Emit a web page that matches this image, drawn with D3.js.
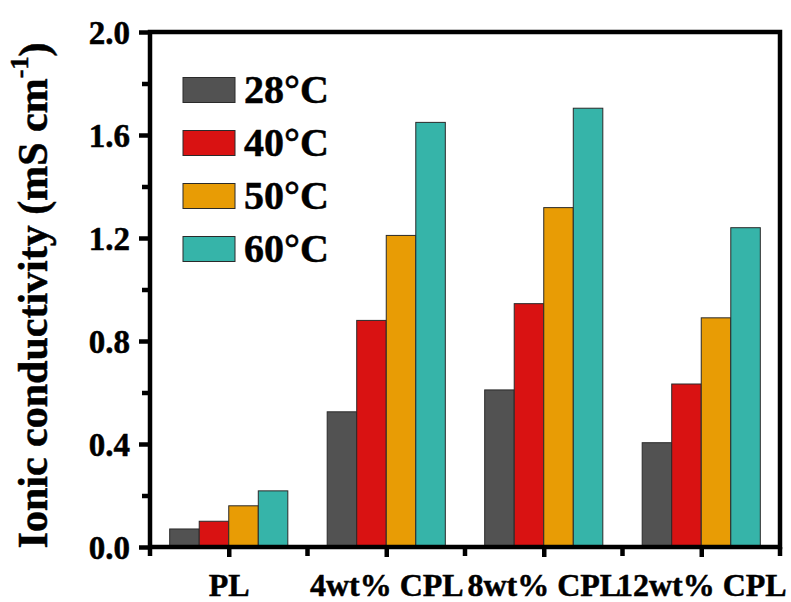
<!DOCTYPE html>
<html>
<head>
<meta charset="utf-8">
<script src="https://cdn.jsdelivr.net/npm/d3@7"></script>
<style>
  html, body { margin: 0; padding: 0; background: #fff; }
  svg { display: block; }
  text { font-family: "Liberation Serif", "Times New Roman", serif; font-weight: bold; fill: #000;
         stroke: #000; stroke-width: 0.5px; }
</style>
</head>
<body>
<svg id="chart" width="791" height="602"></svg>
<script>
// Sample groups along the x axis
const categories = ["PL", "4wt% CPL", "8wt% CPL", "12wt% CPL"];
// Measurement temperatures (one bar per temperature in each group)
const temperatures = ["28°C", "40°C", "50°C", "60°C"];
// Ionic conductivity (mS cm-1), one array per temperature, ordered as categories
const values28 = [0.07, 0.525, 0.61, 0.405];
const values40 = [0.10, 0.88, 0.945, 0.633];
const values50 = [0.16, 1.21, 1.318, 0.89];
const values60 = [0.218, 1.649, 1.704, 1.24];
const seriesValues = [values28, values40, values50, values60];
const barColors = ["#525252", "#d91212", "#e89c05", "#36b4a9"];
const yMajorTicks = [0.0, 0.4, 0.8, 1.2, 1.6, 2.0];
const yMinorTicks = [0.2, 0.6, 1.0, 1.4, 1.8];

const svg = d3.select("#chart");
const plotLeft = 150, plotRight = 780, plotTop = 32, plotBottom = 547;
const axisWidth = 4.5;

const x0 = d3.scaleBand().domain(categories).range([plotLeft, plotRight])
  .paddingInner(0.25).paddingOuter(0.125);
const x1 = d3.scaleBand().domain(temperatures).range([0, x0.bandwidth()]);
const y = d3.scaleLinear().domain([0, 2.0]).range([plotBottom, plotTop]);

// Bars
const groups = svg.append("g").selectAll("g")
  .data(categories)
  .join("g")
  .attr("transform", d => `translate(${x0(d)},0)`);

groups.selectAll("rect")
  .data((c, ci) => temperatures.map((t, ti) => ({ t, ti, v: seriesValues[ti][ci] })))
  .join("rect")
  .attr("x", d => x1(d.t))
  .attr("width", x1.bandwidth())
  .attr("y", d => y(d.v))
  .attr("height", d => y(0) - y(d.v))
  .attr("fill", d => barColors[d.ti])
  .attr("stroke", "#2a2a2a")
  .attr("stroke-width", 1);

// Y axis: major ticks with labels, minor ticks without
const yAxis = svg.append("g")
  .attr("transform", `translate(${plotLeft},0)`)
  .call(d3.axisLeft(y).tickValues(yMajorTicks).tickFormat(d3.format(".1f"))
    .tickSizeOuter(0).tickSize(11).tickPadding(9));
yAxis.select(".domain").remove();
yAxis.selectAll("line").attr("stroke", "#000").attr("stroke-width", axisWidth);
yAxis.selectAll("text").attr("font-size", 33).attr("dy", "0.34em");

const yMinor = svg.append("g")
  .attr("transform", `translate(${plotLeft},0)`)
  .call(d3.axisLeft(y).tickValues(yMinorTicks).tickFormat("").tickSizeOuter(0).tickSize(8));
yMinor.select(".domain").remove();
yMinor.selectAll("line").attr("stroke", "#000").attr("stroke-width", axisWidth);

// X axis: major ticks at group centres, minor ticks at group boundaries
const xCenter = d3.scalePoint().domain(categories)
  .range([x0(categories[0]) + x0.bandwidth() / 2,
          x0(categories[categories.length - 1]) + x0.bandwidth() / 2]);
const xAxis = svg.append("g")
  .attr("transform", `translate(0,${plotBottom})`)
  .call(d3.axisBottom(xCenter).tickSizeOuter(0).tickSize(10).tickPadding(16));
xAxis.select(".domain").remove();
xAxis.selectAll("line").attr("stroke", "#000").attr("stroke-width", axisWidth);
xAxis.selectAll("text").attr("font-size", 32).attr("dy", "0.71em");

const step = x0.step();
const boundaries = d3.range(categories.length + 1).map(i => plotLeft + i * step);
svg.append("g").selectAll("line")
  .data(boundaries)
  .join("line")
  .attr("x1", d => d).attr("x2", d => d)
  .attr("y1", plotBottom).attr("y2", plotBottom + 9)
  .attr("stroke", "#000").attr("stroke-width", axisWidth);

// Frame around the plot area
svg.append("rect")
  .attr("x", plotLeft).attr("y", plotTop)
  .attr("width", plotRight - plotLeft).attr("height", plotBottom - plotTop)
  .attr("fill", "none").attr("stroke", "#000").attr("stroke-width", axisWidth);

// Y axis title
const yTitle = svg.append("text")
  .attr("transform", `translate(47,${(plotTop + plotBottom) / 2 + 6}) rotate(-90)`)
  .attr("text-anchor", "middle")
  .attr("font-size", 42);
yTitle.append("tspan").text("Ionic conductivity (mS cm");
yTitle.append("tspan").attr("font-size", 26).attr("dy", "-0.75em").text("-1");
yTitle.append("tspan").attr("dy", "0.48em").text(")");

// Legend
const legend = svg.append("g").selectAll("g")
  .data(temperatures)
  .join("g")
  .attr("transform", (d, i) => `translate(183,${90 + i * 53})`);
legend.append("rect")
  .attr("x", 0).attr("y", -12.5)
  .attr("width", 52).attr("height", 25)
  .attr("fill", (d, i) => barColors[i])
  .attr("stroke", "#2a2a2a").attr("stroke-width", 1);
legend.append("text")
  .attr("x", 61).attr("y", 13)
  .attr("font-size", 40)
  .text(d => d);
</script>
</body>
</html>
